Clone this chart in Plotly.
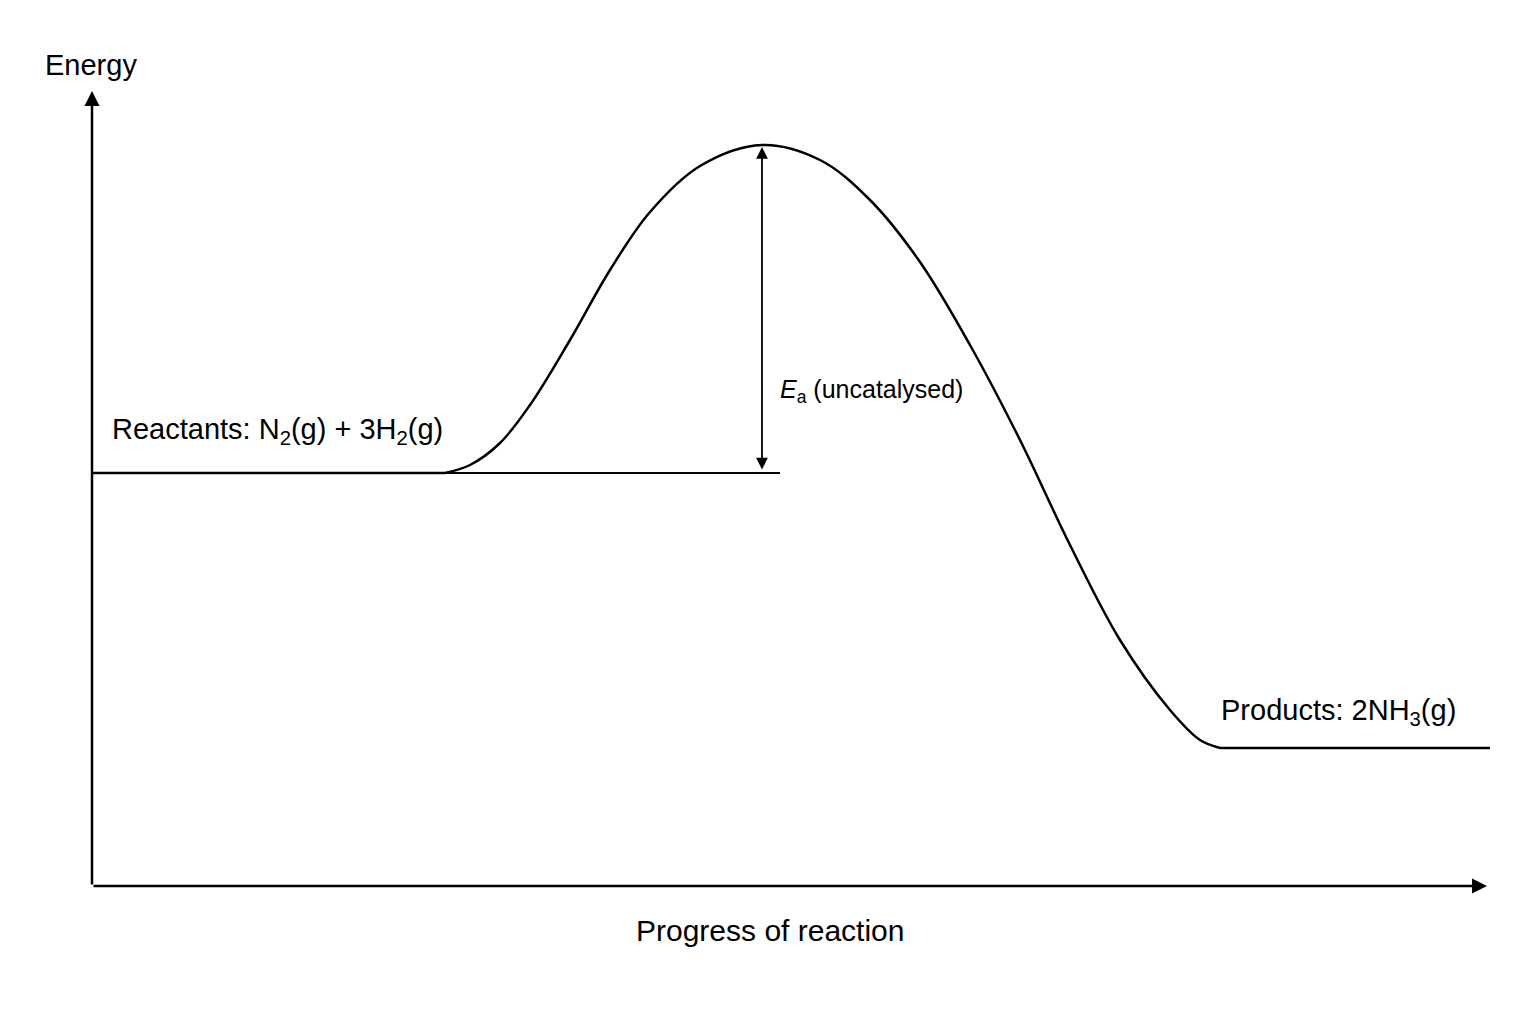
import plotly.graph_objects as go

# Values (x: progress, y: energy, arbitrary units)
progress = [353, 378, 408, 438, 478, 518, 558, 608, 670, 728, 778, 828, 878, 928, 978, 1028, 1078, 1108, 1128]
energy   = [413, 421, 443, 481, 546, 616, 674, 720, 741, 726, 686, 624, 541, 446, 341, 246, 176, 146, 138]
reactant_energy = 413
peak_energy = 741
product_energy = 138
peak_progress = 670
reactant_line_end = 688
start_progress, end_progress = 0, 1398
X_MAX, Y_MAX = 1398, 791

FONT = "Liberation Sans, Arial, sans-serif"
fig = go.Figure()
fig.add_trace(go.Scatter(x=progress, y=energy, mode="lines", line=dict(color="black", width=2.5, shape="spline", smoothing=1.0), hoverinfo="skip"))
fig.add_trace(go.Scatter(x=[start_progress, progress[0]], y=[reactant_energy, reactant_energy], mode="lines", line=dict(color="black", width=2.5), hoverinfo="skip"))
fig.add_trace(go.Scatter(x=[progress[-1], end_progress], y=[product_energy, product_energy], mode="lines", line=dict(color="black", width=2.5), hoverinfo="skip"))
fig.add_trace(go.Scatter(x=[start_progress, reactant_line_end], y=[reactant_energy, reactant_energy], mode="lines", line=dict(color="black", width=2), hoverinfo="skip"))

ann = []
ann.append(dict(x=0, y=795, ax=0, ay=0, xref="x", yref="y", axref="x", ayref="y", showarrow=True, arrowhead=2, arrowsize=1.2, arrowwidth=2.5, arrowcolor="black", text=""))
ann.append(dict(x=1395, y=0, ax=0, ay=0, xref="x", yref="y", axref="x", ayref="y", showarrow=True, arrowhead=2, arrowsize=1.2, arrowwidth=2.5, arrowcolor="black", text=""))
ann.append(dict(x=peak_progress, y=peak_energy - 2, ax=peak_progress, ay=reactant_energy + 2, xref="x", yref="y", axref="x", ayref="y", showarrow=True, arrowhead=2, startarrowhead=2, arrowside="end+start", arrowsize=1.3, arrowwidth=1.8, arrowcolor="black", text=""))
f = dict(family=FONT, size=29, color="black")
ann.append(dict(x=-49 / X_MAX, y=821 / Y_MAX, xref="paper", yref="paper", text="Energy", xanchor="left", yanchor="middle", showarrow=False, font=f))
ann.append(dict(x=678 / X_MAX, y=-45 / Y_MAX, xref="paper", yref="paper", text="Progress of reaction", xanchor="center", yanchor="middle", showarrow=False, font=dict(family=FONT, size=30, color="black")))
txt = dict(xref="x", yref="y", showarrow=False, font=f)
ann.append(dict(x=18, y=455, text="Reactants: N<sub>2</sub>(g) + 3H<sub>2</sub>(g)", xanchor="left", yanchor="middle", **txt))
ann.append(dict(x=686, y=495, text="<i>E</i><sub>a</sub> (uncatalysed)", xanchor="left", yanchor="middle", xref="x", yref="y", showarrow=False, font=dict(family=FONT, size=25, color="black")))
ann.append(dict(x=1366, y=174, text="Products: 2NH<sub>3</sub>(g)", xanchor="right", yanchor="middle", **txt))

fig.update_layout(
    width=1536, height=1024, plot_bgcolor="white", paper_bgcolor="white",
    margin=dict(l=84, r=54, t=87, b=146), showlegend=False, annotations=ann,
    xaxis=dict(range=[0, X_MAX], visible=False),
    yaxis=dict(range=[0, Y_MAX], visible=False),
)
fig.write_html("out.html")
